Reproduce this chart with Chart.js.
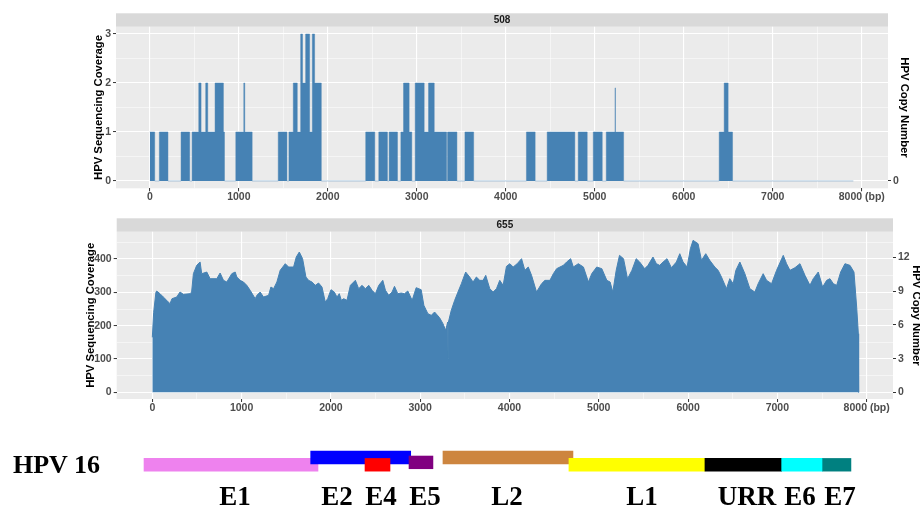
<!DOCTYPE html>
<html>
<head>
<meta charset="utf-8">
<script src="https://cdn.jsdelivr.net/npm/chart.js@4.4.0/dist/chart.umd.min.js"></script>
<style>
  body { margin: 0; background: #fff; width: 920px; height: 509px; overflow: hidden; position: relative; }
  .box { position: absolute; left: 0; width: 920px; }
  #hpv { position: absolute; left: 13px; top: 450px; line-height: 26px;
         font: bold 26px "Liberation Serif", "Times New Roman", serif; color: #000; }
</style>
</head>
<body>
<div class="box" style="top:0;height:205px"><canvas id="cov508"></canvas></div>
<div class="box" style="top:205px;height:210px"><canvas id="cov655"></canvas></div>
<div class="box" style="top:425px;height:84px"><canvas id="genes"></canvas></div>
<div id="hpv">HPV 16</div>

<script>
// x axis (genome position, bp)
const xMajor = [0, 1000, 2000, 3000, 4000, 5000, 6000, 7000, 8000];
const xLabels = ['0', '1000', '2000', '3000', '4000', '5000', '6000', '7000', '8000 (bp)'];
const xMinor = [500, 1500, 2500, 3500, 4500, 5500, 6500, 7500];

// sample 508 - read depth, each value holds from its position to the next one
const pos508 = [0, 55, 107, 204, 351, 448, 475, 550, 576, 628, 651, 733, 827, 839,
  966, 1056, 1067, 1150, 1443, 1541, 1563, 1612, 1657, 1695, 1716, 1751, 1796, 1826, 1852, 1927,
  2426, 2528, 2573, 2670, 2689, 2783, 2821, 2851, 2914, 2944, 2982, 3083, 3132, 3196, 3335, 3346,
  3451, 3541, 3639, 4232, 4330, 4465, 4776, 4814, 4915, 4983, 5084, 5129, 5228, 5232, 5324,
  6398, 6454, 6499, 6548, 7906];
const depth508 = [1, 0, 1, 0, 1, 0, 1, 2, 1, 2, 1, 2, 1, 0,
  1, 2, 1, 0, 1, 0, 1, 2, 1, 3, 2, 3, 1, 3, 2, 0,
  1, 0, 1, 0, 1, 0, 1, 2, 1, 0, 2, 1, 2, 1, 0, 1,
  0, 1, 0, 1, 0, 1, 0, 1, 0, 1, 0, 1, 1.9, 1, 0,
  1, 2, 1, 0, 0];
const y508Major = [0, 1, 2, 3];
const y508Minor = [0.5, 1.5, 2.5];

// sample 655 - read depth along the genome
const pos655 = [0, 15, 40, 49, 86, 123, 161, 198, 220, 273, 310, 348, 423, 440, 460, 497, 535, 553,
  610, 647, 722, 759, 797, 834, 890, 928, 946, 984, 1021, 1058, 1096, 1152, 1171, 1208, 1245,
  1302, 1328, 1358, 1395, 1432, 1489, 1526, 1582, 1612, 1646, 1683, 1720, 1750, 1788, 1825,
  1862, 1900, 1937, 1964, 2001, 2038, 2068, 2094, 2117, 2143, 2180, 2218, 2274, 2311, 2349,
  2386, 2424, 2461, 2498, 2536, 2581, 2611, 2648, 2685, 2712, 2749, 2787, 2824, 2861, 2910,
  2955, 3011, 3041, 3086, 3124, 3161, 3217, 3255, 3285, 3308, 3312, 3316, 3348, 3386, 3423,
  3461, 3509, 3554, 3592, 3629, 3667, 3704, 3734, 3779, 3817, 3854, 3891, 3929, 3966, 4004,
  4041, 4086, 4135, 4172, 4210, 4247, 4303, 4359, 4397, 4453, 4491, 4528, 4565, 4603, 4640,
  4685, 4715, 4771, 4828, 4884, 4921, 4977, 5034, 5090, 5127, 5157, 5195, 5232, 5277, 5322,
  5371, 5419, 5458, 5514, 5551, 5607, 5645, 5682, 5720, 5764, 5813, 5869, 5907, 5944, 5989,
  6026, 6056, 6112, 6150, 6198, 6243, 6299, 6337, 6374, 6430, 6467, 6505, 6535, 6580, 6636,
  6692, 6748, 6785, 6841, 6879, 6935, 6991, 7066, 7103, 7141, 7197, 7253, 7309, 7365, 7402,
  7458, 7507, 7552, 7589, 7627, 7664, 7709, 7757, 7813, 7858, 7888, 7907, 7910];
const depth655 = [165, 240, 300, 304, 296, 286, 276, 266, 281, 286, 301, 294, 296, 301, 356, 381, 391, 356,
  361, 341, 341, 358, 336, 331, 356, 361, 346, 336, 331, 321, 306, 281, 291, 301, 286,
  291, 316, 311, 331, 366, 386, 376, 376, 406, 421, 401, 346, 336, 331, 321,
  328, 316, 271, 281, 308, 301, 286, 296, 276, 281, 276, 321, 336, 311, 321,
  311, 321, 306, 296, 321, 336, 306, 291, 301, 318, 296, 298, 296, 304, 276,
  314, 308, 261, 236, 231, 241, 224, 206, 186, 211, 101, 211, 246, 276, 301,
  326, 361, 346, 331, 346, 336, 336, 351, 311, 301, 311, 336, 321, 378, 386,
  376, 386, 401, 366, 376, 351, 301, 326, 336, 336, 356, 371, 376, 381, 391,
  401, 376, 386, 376, 331, 356, 376, 371, 336, 331, 301, 366, 411, 401, 341,
  366, 401, 391, 371, 381, 406, 386, 381, 391, 401, 374, 391, 416, 391, 376,
  431, 456, 446, 396, 416, 396, 376, 366, 346, 311, 341, 326, 366, 391, 356,
  311, 301, 326, 356, 336, 326, 366, 411, 386, 366, 374, 386, 351, 321, 341,
  361, 316, 336, 341, 326, 321, 361, 386, 381, 361, 256, 176, 0];
const y655Major = [0, 100, 200, 300, 400];
const y655Minor = [50, 150, 250, 350, 450];
const copyTicks = [0, 3, 6, 9, 12];
const readsPerCopy = 33.7;

// HPV 16 genome map (schematic, in bp)
const geneNames = ['E1', 'E2', 'E4', 'E5', 'L2', 'L1', 'URR', 'E6', 'E7'];
const geneStart = [-75, 1800, 2411, 2906, 3288, 4705, 6235, 7098, 7559];
const geneEnd = [1882, 2925, 2692, 3175, 4750, 6235, 7098, 7559, 7877];
const geneTrack = [0, 1, 0, 0.33, 1, 0, 0, 0, 0];
const geneLabelAt = [948, 2096, 2591, 3086, 4008, 5526, 6708, 7304, 7754];
const geneColors = ['#EE82EE', '#0000FF', '#FF0000', '#800080', '#CD853F', '#FFFF00', '#000000', '#00FFFF', '#008080'];

const SANS = '"Liberation Sans", Arial, Helvetica, sans-serif';
const tickFont = { family: SANS, size: 10.5, weight: 'bold' };
const titleFont = { family: SANS, size: 11.3, weight: 'bold' };

function setTicks(values) {
  return function (scale) { scale.ticks = values.map(v => ({ value: v })); };
}
function isMajor(c, majors) { return c.tick && majors.includes(c.tick.value); }
function panelGrid(majors) {
  return {
    color: '#FFFFFF',
    lineWidth: c => isMajor(c, majors) ? 1.1 : 0.5,
    tickColor: c => isMajor(c, majors) ? '#333333' : 'rgba(0,0,0,0)',
    tickWidth: 1,
    tickLength: 3
  };
}

// grey panel + facet strip like ggplot
const panelPlugin = {
  id: 'panel',
  beforeDraw(chart, args, opts) {
    const { ctx, chartArea: a } = chart;
    ctx.save();
    ctx.fillStyle = '#EBEBEB';
    ctx.fillRect(a.left, a.top, a.right - a.left, a.bottom - a.top);
    ctx.fillStyle = '#D9D9D9';
    ctx.fillRect(a.left, a.top - opts.strip, a.right - a.left, opts.strip);
    ctx.fillStyle = '#1A1A1A';
    ctx.font = 'bold 10px ' + SANS;
    ctx.textAlign = 'center';
    ctx.textBaseline = 'middle';
    ctx.fillText(opts.label, (a.left + a.right) / 2, a.top - opts.strip / 2 + 0.5);
    ctx.restore();
  }
};

function coverageChart(id, cfg) {
  const xMajLab = {};
  xMajor.forEach((v, i) => { xMajLab[v] = xLabels[i]; });
  return new Chart(document.getElementById(id), {
    type: 'line',
    data: {
      datasets: [{
        data: cfg.pos.map((x, i) => ({ x: x, y: cfg.depth[i] })),
        stepped: cfg.stepped || false,
        fill: 'origin',
        backgroundColor: '#4682B4',
        borderColor: cfg.lineColor,
        borderWidth: 1,
        pointRadius: 0,
        tension: 0
      }]
    },
    options: {
      animation: false,
      responsive: true,
      maintainAspectRatio: false,
      layout: { padding: { top: 26.7, left: cfg.padLeft, right: cfg.padRight, bottom: 0 } },
      plugins: {
        legend: { display: false },
        tooltip: { enabled: false },
        panel: { label: cfg.label, strip: 13.4 }
      },
      scales: {
        x: {
          type: 'linear',
          min: cfg.xMin, max: cfg.xMax,
          afterBuildTicks: setTicks(xMajor.concat(xMinor).sort((a, b) => a - b)),
          afterFit: s => { s.height = cfg.xAxisHeight; },
          border: { display: false },
          grid: panelGrid(xMajor),
          ticks: {
            autoSkip: false, maxRotation: 0, padding: 0,
            color: '#4D4D4D', font: tickFont,
            callback: v => (v in xMajLab ? xMajLab[v] : '')
          }
        },
        y: {
          type: 'linear',
          position: 'left',
          min: cfg.yMin, max: cfg.yMax,
          afterBuildTicks: setTicks(cfg.yMajor.concat(cfg.yMinor)),
          afterFit: s => { s.width = cfg.leftWidth; },
          border: { display: false },
          grid: panelGrid(cfg.yMajor),
          ticks: {
            padding: 2, color: '#4D4D4D', font: tickFont,
            callback: v => (cfg.yMajor.includes(v) ? String(v) : '')
          },
          title: { display: true, text: 'HPV Sequencing Coverage', color: '#000', font: titleFont, padding: 0 }
        },
        copy: {
          type: 'linear',
          position: 'right',
          min: cfg.yMin / readsPerCopy, max: cfg.yMax / readsPerCopy,
          afterBuildTicks: setTicks(cfg.copyTicks),
          afterFit: s => { s.width = cfg.rightWidth; },
          border: { display: false },
          grid: { drawOnChartArea: false, tickColor: '#333333', tickLength: 3, tickWidth: 1 },
          ticks: { padding: 2, color: '#4D4D4D', font: tickFont, callback: v => String(v) },
          title: { display: true, text: 'HPV Copy Number', color: '#000', font: titleFont, padding: { top: cfg.rightTitlePad, bottom: 0 } }
        }
      }
    },
    plugins: [panelPlugin]
  });
}

coverageChart('cov508', {
  label: '508', pos: pos508, depth: depth508, stepped: 'before',
  lineColor: 'rgba(70,130,180,0.45)',
  xMin: -380, xMax: 8295, yMin: -0.15, yMax: 3.15,
  yMajor: y508Major, yMinor: y508Minor, copyTicks: [0],
  padLeft: 92.2, leftWidth: 23.8, padRight: 9, rightWidth: 23, rightTitlePad: 0,
  xAxisHeight: 16.7
});

coverageChart('cov655', {
  label: '655', pos: pos655, depth: depth655,
  lineColor: '#4682B4',
  xMin: -399, xMax: 8295, yMin: -20, yMax: 482,
  yMajor: y655Major, yMinor: y655Minor, copyTicks: copyTicks,
  padLeft: 84.2, leftWidth: 32.5, padRight: 0, rightWidth: 27, rightTitlePad: -2.8,
  xAxisHeight: 16
});

// gene labels under the bars
const geneLabelPlugin = {
  id: 'geneLabels',
  afterDatasetsDraw(chart) {
    const { ctx, scales, chartArea } = chart;
    ctx.save();
    ctx.fillStyle = '#000';
    ctx.font = 'bold 27px "Liberation Serif", "Times New Roman", serif';
    ctx.textAlign = 'center';
    ctx.textBaseline = 'alphabetic';
    geneNames.forEach((n, i) => {
      ctx.fillText(n, scales.x.getPixelForValue(geneLabelAt[i]), chartArea.bottom - 4);
    });
    ctx.restore();
  }
};

new Chart(document.getElementById('genes'), {
  type: 'bar',
  data: {
    datasets: [{
      data: geneNames.map((n, i) => ({ x: [geneStart[i], geneEnd[i]], y: geneTrack[i] })),
      backgroundColor: geneColors,
      borderWidth: 0,
      barThickness: 12.7,
      borderSkipped: false
    }]
  },
  options: {
    indexAxis: 'y',
    animation: false,
    responsive: true,
    maintainAspectRatio: false,
    layout: { padding: 0 },
    plugins: { legend: { display: false }, tooltip: { enabled: false } },
    scales: {
      x: { type: 'linear', min: -1695, max: 8654, display: false },
      y: { type: 'linear', min: -4.12, max: 3.52, display: false }
    }
  },
  plugins: [geneLabelPlugin]
});
</script>
</body>
</html>
